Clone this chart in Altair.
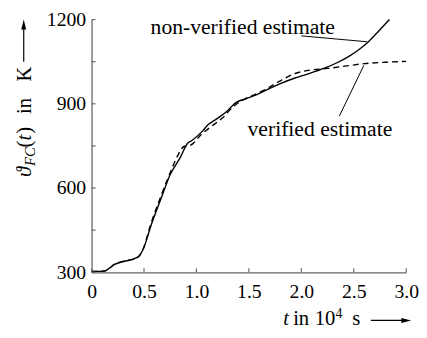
import altair as alt
import pandas as pd

# ---- data ----
t_nonver = [0.00, 0.12, 0.17, 0.22, 0.28, 0.35, 0.40, 0.43, 0.46, 0.49, 0.57, 0.66, 0.75, 0.85,
            0.91, 0.96, 1.05, 1.11, 1.20, 1.28, 1.38, 1.47, 1.57, 1.70, 1.80, 1.94, 2.05, 2.22,
            2.35, 2.45, 2.56, 2.65, 2.74, 2.84]
v_nonver = [303, 304, 315, 328, 336, 342, 348, 352, 362, 380, 470, 560, 648, 712,
            757, 770, 800, 825, 848, 870, 905, 918, 932, 955, 972, 992, 1005, 1027,
            1048, 1068, 1096, 1125, 1160, 1200]

t_ver = [0.00, 0.12, 0.17, 0.22, 0.28, 0.35, 0.40, 0.43, 0.46, 0.49, 0.57, 0.66, 0.75, 0.83,
         0.88, 0.94, 1.05, 1.15, 1.25, 1.35, 1.45, 1.57, 1.70, 1.80, 1.94, 2.05, 2.25, 2.45,
         2.60, 2.80, 3.00]
v_ver = [303, 304, 314, 329, 337, 343, 346, 350, 360, 382, 478, 570, 655, 722,
         748, 752, 792, 822, 850, 890, 915, 935, 960, 982, 1008, 1018, 1026, 1036,
         1043, 1048, 1051]

x_ticks = [0, 0.5, 1.0, 1.5, 2.0, 2.5, 3.0]
y_ticks = [300, 450, 600, 750, 900, 1050, 1200]

# annotation labels (data units) and leader lines
ann_text = ["non-verified estimate", "verified estimate"]
ann_t = [0.5625, 1.487]
ann_v = [1150, 786]
lead_t1 = [2.00, 2.362]
lead_v1 = [1142, 856]
lead_t2 = [2.627, 2.596]
lead_v2 = [1121, 1037]

# ---- layout ----
W, H = 320, 257
FONT = "Liberation Serif"
AX = "#666666"

xs = alt.Scale(domain=[0, 3], nice=False, zero=False)
ys = alt.Scale(domain=[300, 1200], nice=False, zero=False)

x_axis = alt.Axis(values=x_ticks, ticks=False, tickSize=0, grid=False, title=None,
                  labelExpr="datum.value == 0 ? '0' : format(datum.value, '.1f')",
                  labelFlush=False, labelOverlap=False, labelFont=FONT, labelFontSize=20,
                  labelColor="black", labelBaseline="alphabetic", labelPadding=26,
                  domainColor=AX, domainWidth=1.3)
y_axis = alt.Axis(values=y_ticks, ticks=False, tickSize=0, grid=False, title=None, format="d",
                  labelExpr="datum.value % 300 == 0 ? datum.label : ''",
                  labelOverlap=False, labelFont=FONT, labelFontSize=20, labelColor="black",
                  labelBaseline="middle", labelPadding=6, domainColor=AX, domainWidth=1.3)


def X(f):
    return alt.X(f, scale=xs, axis=x_axis, title=None)


def Y(f):
    return alt.Y(f, scale=ys, axis=y_axis, title=None)


df_nv = pd.DataFrame({"t": t_nonver, "v": v_nonver})
df_v = pd.DataFrame({"t": t_ver, "v": v_ver})

solid = alt.Chart(df_nv).mark_line(color="black", strokeWidth=1.4, interpolate="monotone").encode(
    x=X("t:Q"), y=Y("v:Q"))
dashed = alt.Chart(df_v).mark_line(color="black", strokeWidth=1.4, strokeDash=[6, 4],
                                   interpolate="monotone").encode(x=X("t:Q"), y=Y("v:Q"))

xt = alt.Chart(pd.DataFrame({"t": x_ticks})).mark_rule(color=AX, strokeWidth=1.2).encode(
    x=X("t:Q"), y=alt.value(H), y2=alt.value(H - 4))
yt = alt.Chart(pd.DataFrame({"v": y_ticks})).mark_rule(color=AX, strokeWidth=1.2).encode(
    y=Y("v:Q"), x=alt.value(0), x2=alt.value(4))

ann = alt.Chart(pd.DataFrame({"t": ann_t, "v": ann_v, "label": ann_text})).mark_text(
    align="left", baseline="alphabetic", font=FONT, fontSize=22, color="black").encode(
    x=X("t:Q"), y=Y("v:Q"), text="label:N")

leads = alt.Chart(pd.DataFrame({"t": lead_t1, "v": lead_v1, "t2": lead_t2, "v2": lead_v2})).mark_rule(
    color="black", strokeWidth=1).encode(
    x=X("t:Q"), y=Y("v:Q"), x2="t2:Q", y2="v2:Q")

one = pd.DataFrame({"k": [0]})


def piece(txt, x, y, size=21, italic=False, angle=0):
    kw = dict(align="left", baseline="alphabetic", font=FONT, fontSize=size, color="black")
    if italic:
        kw["fontStyle"] = "italic"
    if angle:
        kw["angle"] = angle
    return alt.Chart(one).mark_text(**kw).encode(x=alt.value(x), y=alt.value(y), text=alt.value(txt))


# y-axis title (rotated, reading upwards)
yx = -61.3
ytitle = [
    piece("ϑ", yx, 160, italic=True, angle=270),
    piece("FC", yx + 4, 149, size=15, italic=True, angle=270),
    piece("(", yx, 130, angle=270),
    piece("t", yx, 123, italic=True, angle=270),
    piece(")", yx, 116, angle=270),
    piece("in", yx, 96, angle=270),
    piece("K", yx, 63, angle=270),
]
y_arrow = alt.Chart(one).mark_rule(color="black", strokeWidth=1.2).encode(
    x=alt.value(-69), y=alt.value(43), y2=alt.value(8))
y_head = alt.Chart(one).mark_point(shape="M0,-1L0.5,1L-0.5,1Z", filled=True, opacity=1,
                                   color="black", size=100).encode(
    x=alt.value(-69), y=alt.value(5))

# x-axis title
xb = 311
xtitle = [
    piece("t", 195, xb, italic=True),
    piece("in", 205, xb),
    piece("10", 227, xb),
    piece("4", 248, xb - 8, size=14),
    piece("s", 265, xb),
]
x_arrow = alt.Chart(one).mark_rule(color="black", strokeWidth=1.2).encode(
    x=alt.value(284), x2=alt.value(318), y=alt.value(306))
x_head = alt.Chart(one).mark_point(shape="M1,0L-1,0.5L-1,-0.5Z", filled=True, opacity=1,
                                   color="black", size=100).encode(
    x=alt.value(320), y=alt.value(306))

chart = alt.layer(
    solid, dashed, xt, yt, leads, ann, *ytitle, y_arrow, y_head, *xtitle, x_arrow, x_head
).properties(
    width=W, height=H,
    autosize=alt.AutoSizeParams(type="none"),
    padding={"left": 85, "top": 9, "right": 13, "bottom": 60},
).configure(font=FONT, background="white").configure_view(stroke=None)

chart.save("out.html", embed_options={"renderer": "svg", "actions": False})
